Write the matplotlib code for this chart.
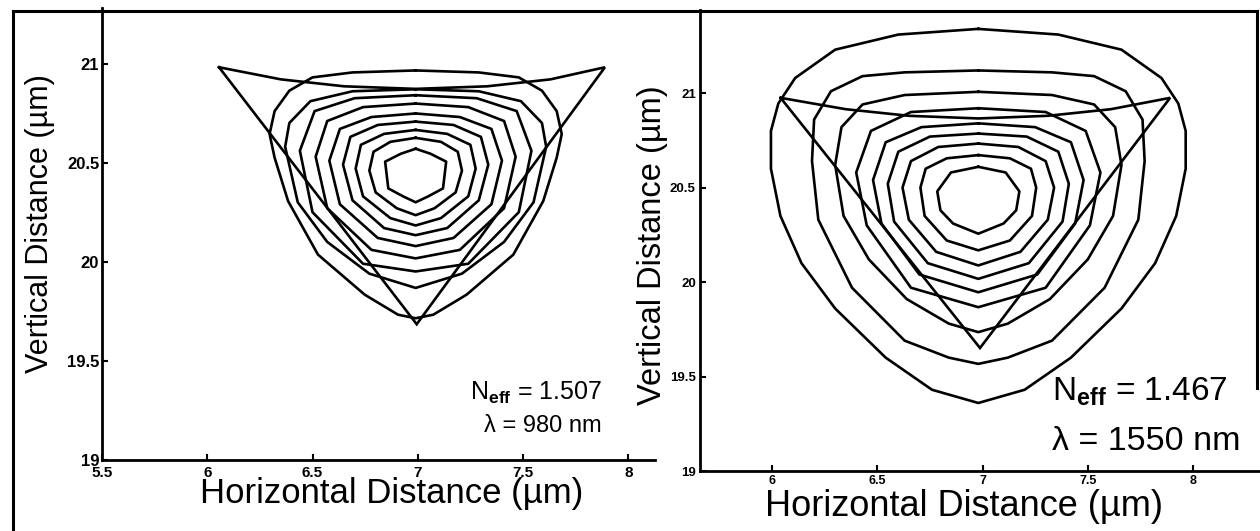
import matplotlib.pyplot as plt
import numpy as np
from matplotlib.lines import Line2D

plt.rcParams['font.family'] = ['Liberation Sans', 'DejaVu Sans']
plt.rcParams['mathtext.fontset'] = 'custom'
plt.rcParams['mathtext.rm'] = 'Liberation Sans'
plt.rcParams['mathtext.bf'] = 'Liberation Sans:bold'

# triangular core outline (um), top side sags slightly
core_x_980 = [6.056, 6.35, 6.65, 6.99, 7.33, 7.63, 7.889, 6.995, 6.056]
core_y_980 = [20.981, 20.92, 20.885, 20.872, 20.885, 20.92, 20.981, 19.685, 20.981]
core_x_1550 = [6.041, 6.35, 6.65, 6.98, 7.31, 7.61, 7.891, 6.988, 6.041]
core_y_1550 = [20.975, 20.915, 20.88, 20.866, 20.88, 20.915, 20.975, 19.651, 20.975]

# mode intensity contours, right half only: (offset from mode axis, height) in um
axis_980 = 6.99
contours_980 = [
    [(0, 20.57), (0.07, 20.545), (0.145, 20.505), (0.13, 20.37), (0.06, 20.33), (0, 20.30)],
    [(0, 20.625), (0.12, 20.605), (0.2, 20.555), (0.22, 20.46), (0.19, 20.35), (0.09, 20.27), (0, 20.235)],
    [(0, 20.665), (0.15, 20.645), (0.26, 20.59), (0.285, 20.47), (0.25, 20.33), (0.12, 20.22), (0, 20.183)],
    [(0, 20.707), (0.18, 20.69), (0.31, 20.63), (0.345, 20.49), (0.30, 20.31), (0.15, 20.17), (0, 20.134)],
    [(0, 20.748), (0.21, 20.73), (0.36, 20.67), (0.41, 20.51), (0.36, 20.29), (0.18, 20.12), (0, 20.079)],
    [(0, 20.798), (0.25, 20.78), (0.42, 20.71), (0.475, 20.53), (0.42, 20.27), (0.21, 20.06), (0, 20.017)],
    [(0, 20.84), (0.29, 20.825), (0.48, 20.76), (0.55, 20.56), (0.49, 20.25), (0.25, 19.99), (0, 19.951)],
    [(0, 20.87), (0.3, 20.86), (0.5, 20.81), (0.6, 20.70), (0.62, 20.58), (0.56, 20.30), (0.42, 20.10),
     (0.22, 19.94), (0, 19.868)],
    [(0, 20.965), (0.3, 20.955), (0.49, 20.93), (0.6, 20.863), (0.67, 20.76), (0.694, 20.644), (0.67, 20.525),
     (0.606, 20.306), (0.464, 20.036), (0.242, 19.834), (0.084, 19.733), (0, 19.715)],
]

axis_1550 = 6.98
contours_1550 = [
    [(0, 20.61), (0.13, 20.58), (0.195, 20.48), (0.18, 20.38), (0.12, 20.31), (0, 20.256)],
    [(0, 20.672), (0.15, 20.655), (0.25, 20.60), (0.275, 20.50), (0.255, 20.35), (0.15, 20.22), (0, 20.168)],
    [(0, 20.733), (0.19, 20.715), (0.32, 20.64), (0.36, 20.50), (0.33, 20.33), (0.2, 20.16), (0, 20.088)],
    [(0, 20.786), (0.23, 20.77), (0.38, 20.69), (0.43, 20.52), (0.40, 20.32), (0.24, 20.10), (0, 20.017)],
    [(0, 20.84), (0.27, 20.82), (0.44, 20.74), (0.50, 20.54), (0.46, 20.31), (0.28, 20.04), (0, 19.946)],
    [(0, 20.92), (0.32, 20.90), (0.51, 20.80), (0.58, 20.58), (0.53, 20.30), (0.32, 19.97), (0, 19.867)],
    [(0, 21.007), (0.35, 20.99), (0.55, 20.94), (0.65, 20.82), (0.68, 20.62), (0.64, 20.35), (0.52, 20.12),
     (0.34, 19.91), (0.14, 19.78), (0, 19.735)],
    [(0, 21.12), (0.35, 21.11), (0.55, 21.09), (0.70, 21.01), (0.78, 20.86), (0.79, 20.64), (0.76, 20.33),
     (0.60, 19.97), (0.35, 19.69), (0.14, 19.60), (0, 19.567)],
    [(0, 21.34), (0.38, 21.31), (0.68, 21.23), (0.87, 21.08), (0.95, 20.945), (0.985, 20.80), (0.985, 20.60),
     (0.94, 20.35), (0.84, 20.10), (0.68, 19.86), (0.44, 19.60), (0.22, 19.43), (0, 19.36)],
]

n_eff = ['1.507', '1.467']
wavelength = ['980', '1550']

x_ticks_980 = [5.5, 6, 6.5, 7, 7.5, 8]
x_ticks_1550 = [6, 6.5, 7, 7.5, 8]
y_ticks = [19, 19.5, 20, 20.5, 21]


def tick_text(v):
    return '%g' % v


def closed_contour(half, x0):
    dx = np.array([p[0] for p in half])
    y = np.array([p[1] for p in half])
    xs = np.concatenate([x0 + dx, (x0 - dx[::-1])[1:]])
    ys = np.concatenate([y, y[::-1][1:]])
    return xs, ys


W, H = 1260, 531
fig = plt.figure(figsize=(W / 100, H / 100), dpi=100)


def px_rect(left, top, right, bottom):
    return [left / W, 1 - bottom / H, (right - left) / W, (bottom - top) / H]


lw = 1.9

ax1 = fig.add_axes(px_rect(102, 8, 655, 460))
ax2 = fig.add_axes(px_rect(700, 10, 1260, 471))

for ax, cx, cy, axis_x, contours in [
    (ax1, core_x_980, core_y_980, axis_980, contours_980),
    (ax2, core_x_1550, core_y_1550, axis_1550, contours_1550),
]:
    ax.plot(cx, cy, color='black', lw=lw, solid_joinstyle='miter')
    for half in contours:
        xs, ys = closed_contour(half, axis_x)
        ax.plot(xs, ys, color='black', lw=lw)
    ax.spines[['top', 'right']].set_visible(False)
    for s in ['left', 'bottom']:
        ax.spines[s].set_linewidth(2.0)
    ax.set_yticks(y_ticks)
    ax.set_yticklabels([tick_text(v) for v in y_ticks], fontweight='bold')
    ax.tick_params(direction='in', length=4, width=1.5)

ax1.set_xlim(5.5, 8.127)
ax1.set_ylim(19, 21.28)
ax1.set_xticks(x_ticks_980)
ax1.set_xticklabels([tick_text(v) for v in x_ticks_980], fontweight='bold')
ax1.tick_params(axis='x', labelsize=11, pad=4)
ax1.tick_params(axis='y', labelsize=12, pad=2)

ax2.set_xlim(5.658, 8.318)
ax2.set_ylim(19, 21.44)
ax2.set_xticks(x_ticks_1550)
ax2.set_xticklabels([tick_text(v) for v in x_ticks_1550], fontweight='bold')
ax2.tick_params(axis='x', labelsize=9, pad=3)
ax2.tick_params(axis='y', labelsize=9.5, pad=3)

ax1.set_xlabel('Horizontal Distance (\u00b5m)', fontsize=25)
ax1.xaxis.set_label_coords(0.523, -0.038)
ax1.set_ylabel('Vertical Distance (\u00b5m)', fontsize=22)
ax1.yaxis.set_label_coords(-0.085, 0.524)

ax2.set_xlabel('Horizontal Distance (\u00b5m)', fontsize=26)
ax2.xaxis.set_label_coords(0.471, -0.039)
ax2.set_ylabel('Vertical Distance (\u00b5m)', fontsize=23.5)
ax2.yaxis.set_label_coords(-0.057, 0.49)

ax1.text(0.904, 0.133, r'N$_{\mathbf{eff}}$ = ' + n_eff[0], transform=ax1.transAxes,
         ha='right', va='baseline', fontsize=18)
ax1.text(0.904, 0.062, '\u03bb = ' + wavelength[0] + ' nm', transform=ax1.transAxes,
         ha='right', va='baseline', fontsize=17)
ax2.text(0.629, 0.154, r'N$_{\mathbf{eff}}$ = ' + n_eff[1], transform=ax2.transAxes,
         ha='left', va='baseline', fontsize=24)
ax2.text(0.629, 0.046, '\u03bb = ' + wavelength[1] + ' nm', transform=ax2.transAxes,
         ha='left', va='baseline', fontsize=24.5)

# frame around the whole figure (open at the bottom)
border = dict(color='black', lw=2.2, transform=fig.transFigure)
fig.add_artist(Line2D([13 / W, 1257 / W], [1 - 11 / H, 1 - 11 / H], **border))
fig.add_artist(Line2D([13 / W, 13 / W], [1 - 11 / H, 0], **border))
fig.add_artist(Line2D([1257 / W, 1257 / W], [1 - 11 / H, 1 - 388 / H], **border))

fig.savefig('out.png', dpi=100)
